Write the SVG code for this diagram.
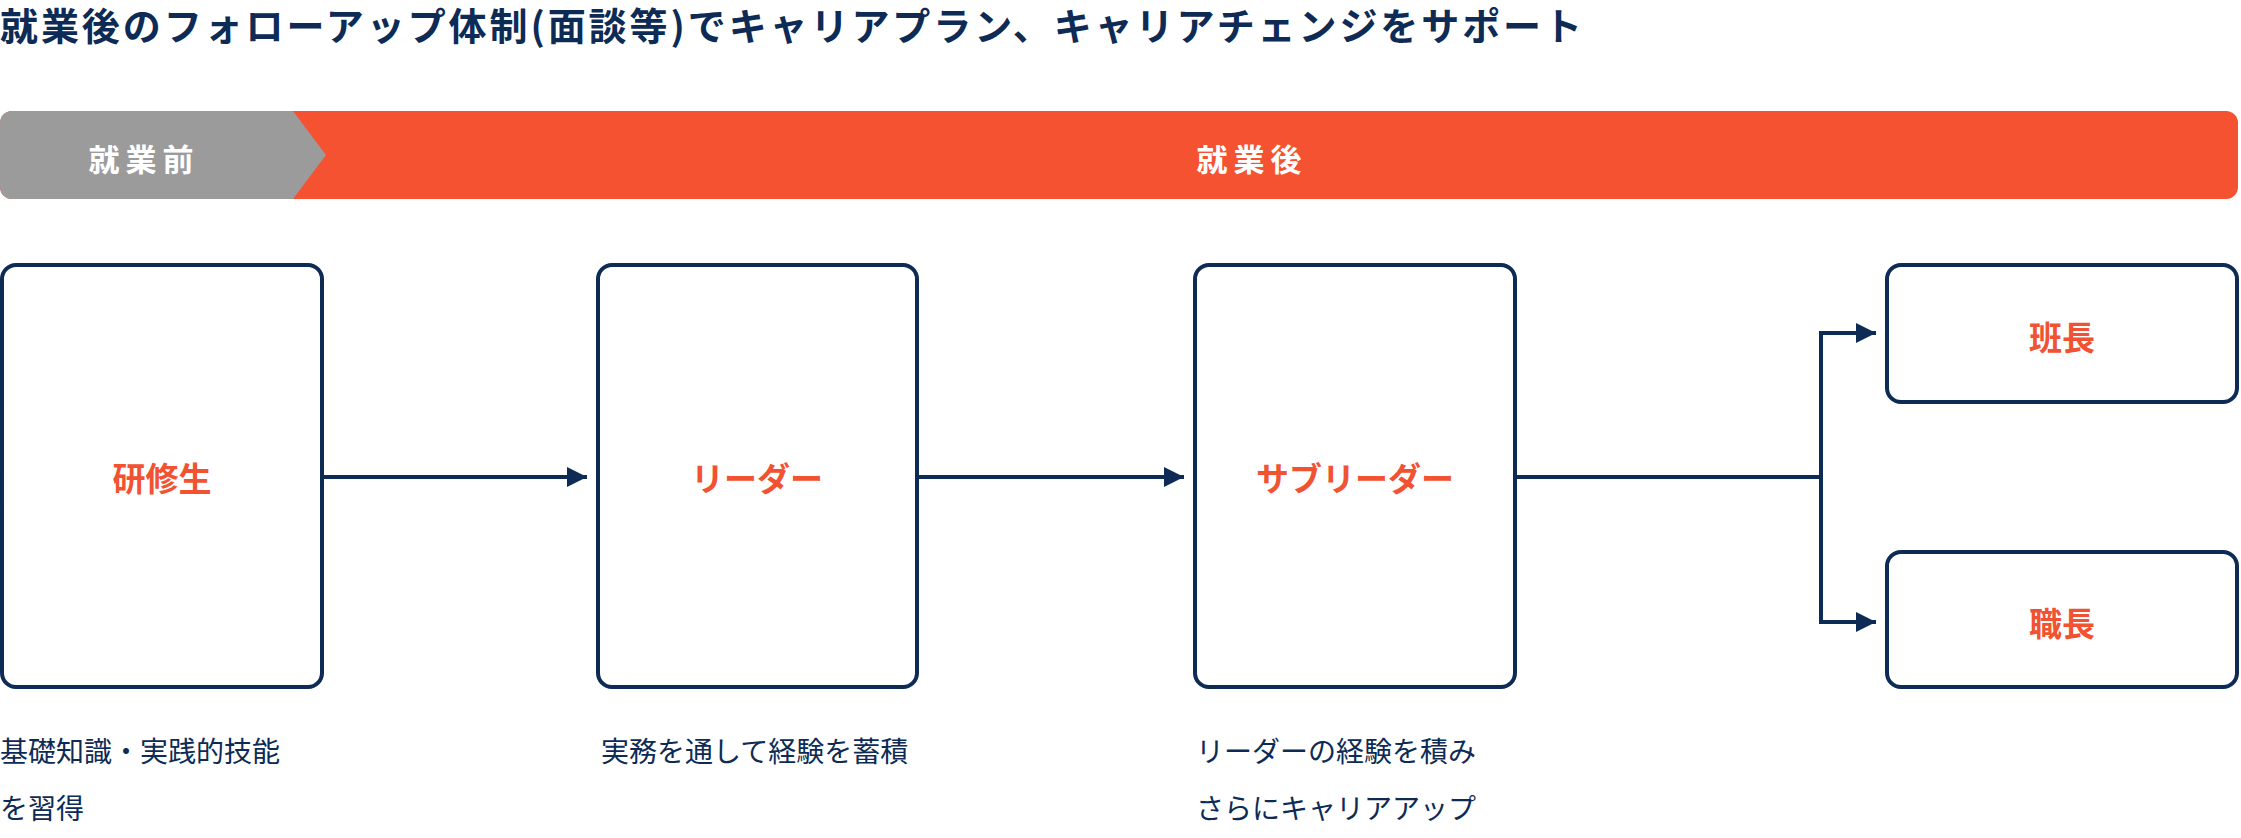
<svg xmlns="http://www.w3.org/2000/svg" width="2241" height="838" viewBox="0 0 2241 838">
<style>
text{font-family:"Noto Sans CJK JP","Noto Sans",sans-serif}
.t{fill:#0d2b55;font-size:38px;font-weight:bold}
.ph{fill:#fff;font-size:31px;font-weight:bold;letter-spacing:6px}
.box{fill:#fff;stroke:#0d2b55;stroke-width:4}
.lb{fill:#f15232;font-size:33px;font-weight:bold;text-anchor:middle;dominant-baseline:central}
.d{fill:#0d2b55;font-size:28px}
.c{stroke:#0d2b55;stroke-width:4;fill:none}
</style>
<defs><marker id="ah" viewBox="0 0 10 10" refX="10" refY="5" markerWidth="5" markerHeight="6.5" markerUnits="strokeWidth" orient="auto"><path d="M0,0L10,5L0,10z" fill="#0d2b55"/></marker></defs>
<rect width="2241" height="838" fill="#fff"/>
<text class="t" x="0" y="40" textLength="1582">就業後のフォローアップ体制(面談等)でキャリアプラン、キャリアチェンジをサポート</text>
<g id="phase">
<rect x="0" y="111" width="2238" height="88" rx="12" fill="#f45230"/>
<path d="M12,111H293L326,155L293,199H12A12,12 0 0 1 0,187V123A12,12 0 0 1 12,111Z" fill="#9b9b9b"/>
<text class="ph" x="144" y="157" text-anchor="middle" dominant-baseline="central">就業前</text>
<text class="ph" x="1252" y="157" text-anchor="middle" dominant-baseline="central">就業後</text>
</g>
<g id="n1"><rect class="box" x="2" y="265" width="320" height="422" rx="14"/><text class="lb" x="162" y="477">研修生</text>
<text class="d" x="0" y="762">基礎知識・実践的技能</text><text class="d" x="0" y="819">を習得</text></g>
<g id="n2"><rect class="box" x="598" y="265" width="319" height="422" rx="14"/><text class="lb" x="757" y="477">リーダー</text>
<text class="d" x="601" y="762">実務を通して経験を蓄積</text></g>
<g id="n3"><rect class="box" x="1195" y="265" width="320" height="422" rx="14"/><text class="lb" x="1355" y="477">サブリーダー</text>
<text class="d" x="1196" y="762">リーダーの経験を積み</text><text class="d" x="1196" y="819">さらにキャリアアップ</text></g>
<g id="n4"><rect class="box" x="1887" y="265" width="350" height="137" rx="14"/><text class="lb" x="2062" y="336">班長</text></g>
<g id="n5"><rect class="box" x="1887" y="552" width="350" height="135" rx="14"/><text class="lb" x="2062" y="622">職長</text></g>
<g id="connectors">
<path class="c" d="M322,477H587" marker-end="url(#ah)"/>
<path class="c" d="M917,477H1184" marker-end="url(#ah)"/>
<path class="c" d="M1515,477H1821"/>
<path class="c" d="M1821,622V333H1876" marker-end="url(#ah)"/>
<path class="c" d="M1821,477V622H1876" marker-end="url(#ah)"/>
</g>
</svg>
